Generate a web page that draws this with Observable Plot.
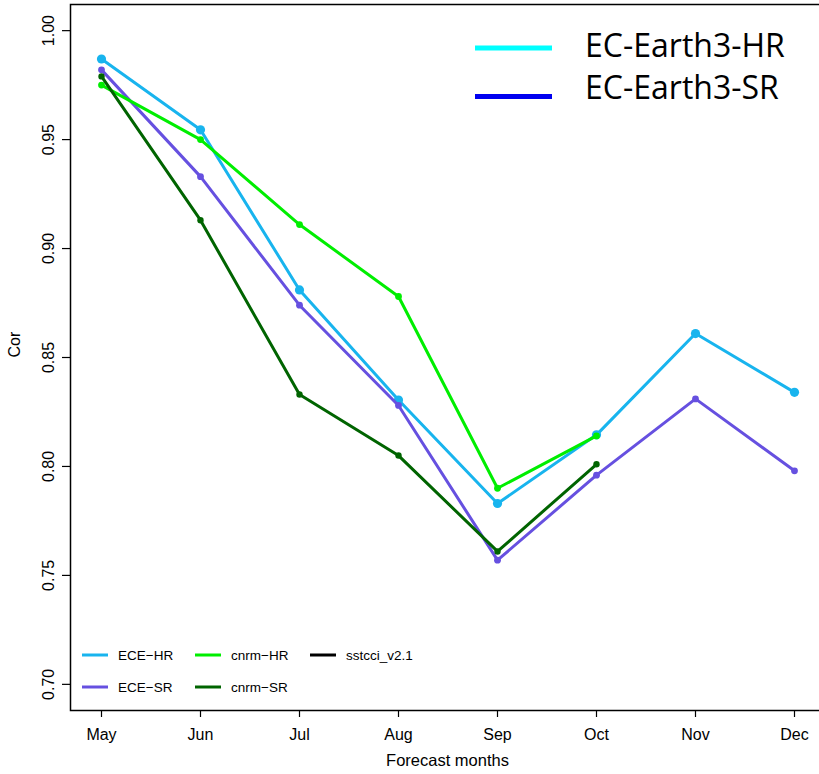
<!DOCTYPE html>
<html>
<head>
<meta charset="utf-8">
<script src="https://cdn.jsdelivr.net/npm/d3@7"></script>
<script src="https://cdn.jsdelivr.net/npm/@observablehq/plot@0.6"></script>
<style>
  html, body { margin: 0; padding: 0; background: #fff; }
  #wrap { position: relative; width: 819px; height: 774px; overflow: hidden; background: #fff; }
  #wrap > svg { display: block; }
  #wrap > svg.overlay { position: absolute; left: 0; top: 0; }
</style>
</head>
<body>
<div id="wrap"></div>
<script>
// ---- data ----
const months = ["May", "Jun", "Jul", "Aug", "Sep", "Oct", "Nov", "Dec"];
const yTicks = [0.70, 0.75, 0.80, 0.85, 0.90, 0.95, 1.00];

const eceHR  = [0.987, 0.9545, 0.881, 0.8305, 0.783, 0.8145, 0.861, 0.834];
const eceSR  = [0.982, 0.933, 0.874, 0.828, 0.757, 0.796, 0.831, 0.798];
const cnrmHR = [0.975, 0.950, 0.911, 0.878, 0.790, 0.814];
const cnrmSR = [0.979, 0.913, 0.833, 0.805, 0.761, 0.801];

const seriesNames  = ["ECE−HR", "ECE−SR", "cnrm−HR", "cnrm−SR", "sstcci_v2.1"];
const seriesColors = ["#18b4ee", "#6650e0", "#00ee00", "#006400", "#000000"];
const bigLegendNames  = ["EC-Earth3-HR", "EC-Earth3-SR"];
const bigLegendColors = ["#00ffff", "#0000f0"];

const toRows = (vals) => vals.map((v, i) => ({month: months[i], value: v}));

const series = [
  {rows: toRows(eceHR),  color: seriesColors[0], r: 4.6, w: 3},
  {rows: toRows(eceSR),  color: seriesColors[1], r: 3.4, w: 3},
  {rows: toRows(cnrmHR), color: seriesColors[2], r: 3.4, w: 3},
  {rows: toRows(cnrmSR), color: seriesColors[3], r: 3.2, w: 3}
];

const marks = [
  Plot.frame({stroke: "black", strokeWidth: 1.5}),
  Plot.axisX({tickSize: 7, tickPadding: 11, fontSize: 16, label: null, stroke: "black", strokeWidth: 1.2}),
  Plot.axisY({ticks: yTicks, tickSize: 8, tickPadding: 9, tickRotate: -90, fontSize: 16,
              tickFormat: d3.format(".2f"), label: null, stroke: "black", strokeWidth: 1.2}),
  Plot.text(["Cor"], {frameAnchor: "left", dx: -56, rotate: -90, fontSize: 16, fill: "black"}),
  Plot.text(["Forecast months"], {frameAnchor: "bottom", dy: 55, fontSize: 16.5, fill: "black"})
];
for (const s of series) {
  marks.push(Plot.line(s.rows, {x: "month", y: "value", stroke: s.color, strokeWidth: s.w}));
  marks.push(Plot.dot(s.rows, {x: "month", y: "value", fill: s.color, r: s.r, stroke: "none"}));
}

const chart = Plot.plot({
  width: 824,
  height: 774,
  marginLeft: 70,
  marginRight: 0,
  marginTop: 4,
  marginBottom: 64,
  x: {type: "point", domain: months, padding: 0, insetLeft: 28, insetRight: 28},
  y: {domain: [0.688, 1.012]},
  style: {fontFamily: "'Liberation Sans', Arial, sans-serif", fontSize: "16px", color: "black",
          background: "white", maxWidth: "none"},
  marks
});
chart.style.maxWidth = "none";
const wrap = document.getElementById("wrap");
wrap.appendChild(chart);

// ---- legends (overlay) ----
const ns = "http://www.w3.org/2000/svg";
const ov = document.createElementNS(ns, "svg");
ov.setAttribute("class", "overlay");
ov.setAttribute("width", 819);
ov.setAttribute("height", 774);
wrap.appendChild(ov);
function add(tag, attrs, text) {
  const el = document.createElementNS(ns, tag);
  for (const k in attrs) el.setAttribute(k, attrs[k]);
  if (text != null) el.textContent = text;
  ov.appendChild(el);
  return el;
}
// inner legend: 3 columns x 2 rows, column-major like R
const colX = [82, 195, 310];
const rowY = [655, 687];
seriesNames.forEach((name, i) => {
  const c = Math.floor(i / 2), r = i % 2;
  const x = colX[c], y = rowY[r];
  add("line", {x1: x, x2: x + 26, y1: y, y2: y, stroke: seriesColors[i], "stroke-width": 3});
  add("text", {x: x + 36, y: y + 4.9, "font-family": "'Liberation Sans', Arial, sans-serif",
               "font-size": 13.5, fill: "black"}, name);
});
// big legend (top right)
const bigLineY = [48, 96.5];
const bigTextBase = [56.5, 98.5];
bigLegendNames.forEach((name, i) => {
  add("line", {x1: 475, x2: 552, y1: bigLineY[i], y2: bigLineY[i], stroke: bigLegendColors[i], "stroke-width": 5});
  add("text", {x: 585, y: bigTextBase[i], "font-family": "'Open Sans', sans-serif",
               "font-size": 32, fill: "black"}, name);
});
</script>
</body>
</html>
